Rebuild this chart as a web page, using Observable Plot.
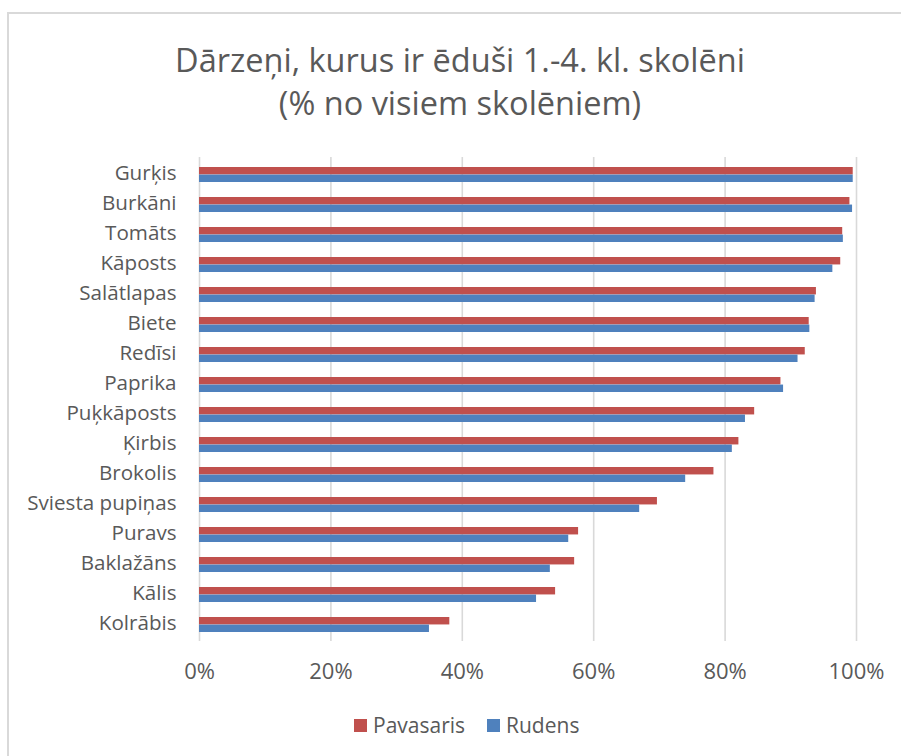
<!DOCTYPE html>
<html>
<head>
<meta charset="utf-8">
<script src="https://cdn.jsdelivr.net/npm/d3@7"></script>
<script src="https://cdn.jsdelivr.net/npm/@observablehq/plot@0.6"></script>
<style>
  html, body { margin: 0; padding: 0; background: #fff; }
  #chart { position: relative; width: 901px; height: 756px; overflow: hidden; background: #fff; font-family: "Open Sans", sans-serif; color: #595959; }
  #frame { position: absolute; left: 7px; top: 12px; width: 1000px; height: 1000px; border: 2px solid #d9d9d9; box-sizing: border-box; }
  #title { position: absolute; left: 10px; width: 900px; top: 38px; text-align: center; font-size: 32.5px; line-height: 43px; color: #595959; }
  #plot { position: absolute; left: 0; top: 130px; }
  #legend { position: absolute; left: 354px; top: 711px; display: flex; align-items: center; font-size: 21px; line-height: 28px; color: #595959; }
  .sw { width: 13px; height: 13px; display: inline-block; margin-right: 6px; }
  .item { display: flex; align-items: center; margin-right: 22px; }
</style>
</head>
<body>
<div id="chart">
  <div id="frame"></div>
  <div id="title">Dārzeņi, kurus ir ēduši 1.-4. kl. skolēni<br>(% no visiem skolēniem)</div>
  <div id="plot"></div>
  <div id="legend"></div>
</div>
<script>
const categories = ["Gurķis","Burkāni","Tomāts","Kāposts","Salātlapas","Biete","Redīsi","Paprika","Puķkāposts","Ķirbis","Brokolis","Sviesta pupiņas","Puravs","Baklažāns","Kālis","Kolrābis"];
const pavasaris = [99.5, 99.0, 97.9, 97.6, 93.9, 92.8, 92.2, 88.5, 84.5, 82.1, 78.3, 69.7, 57.7, 57.1, 54.2, 38.1];
const rudens    = [99.5, 99.4, 98.0, 96.4, 93.7, 92.9, 91.1, 88.9, 83.1, 81.1, 74.0, 67.0, 56.2, 53.4, 51.3, 35.0];
const seriesNames = ["Pavasaris", "Rudens"];
const seriesColors = ["#C0504D", "#4F81BD"];
const xTicks = [0, 20, 40, 60, 80, 100];

const dataP = categories.map((c, i) => ({cat: c, value: pavasaris[i], series: seriesNames[0]}));
const dataR = categories.map((c, i) => ({cat: c, value: rudens[i], series: seriesNames[1]}));

const W = 901, H = 560, mTop = 27, mBottom = 49, mLeft = 199, mRight = 45;
const step = (H - mTop - mBottom) / categories.length;
const half = step * 0.5 / 2;

const chart = Plot.plot({
  width: W,
  height: H,
  marginTop: mTop,
  marginBottom: mBottom,
  marginLeft: mLeft,
  marginRight: mRight,
  style: {fontFamily: "'Open Sans', sans-serif", fontSize: "20.6px", color: "#595959", background: "transparent"},
  x: {domain: [0, 100]},
  y: {domain: categories, paddingInner: 0.5, paddingOuter: 0.25},
  color: {domain: seriesNames, range: seriesColors},
  marks: [
    Plot.gridX(xTicks, {stroke: "#d9d9d9", strokeOpacity: 1, strokeWidth: 1.6}),
    Plot.barX(dataP, {x: "value", y: "cat", fill: "series", insetBottom: half}),
    Plot.barX(dataR, {x: "value", y: "cat", fill: "series", insetTop: half}),
    Plot.axisX({ticks: xTicks, tickSize: 0, tickPadding: 22, tickFormat: d => d + "%", label: null, fontSize: 22}),
    Plot.axisY({tickSize: 0, tickPadding: 23, label: null, fontSize: 20.6, dy: -2})
  ]
});
document.getElementById("plot").appendChild(chart);

const legend = document.getElementById("legend");
seriesNames.forEach((s, i) => {
  const item = document.createElement("div");
  item.className = "item";
  const sw = document.createElement("span");
  sw.className = "sw";
  sw.style.background = seriesColors[i];
  const t = document.createElement("span");
  t.textContent = s;
  item.appendChild(sw);
  item.appendChild(t);
  legend.appendChild(item);
});
</script>
</body>
</html>
